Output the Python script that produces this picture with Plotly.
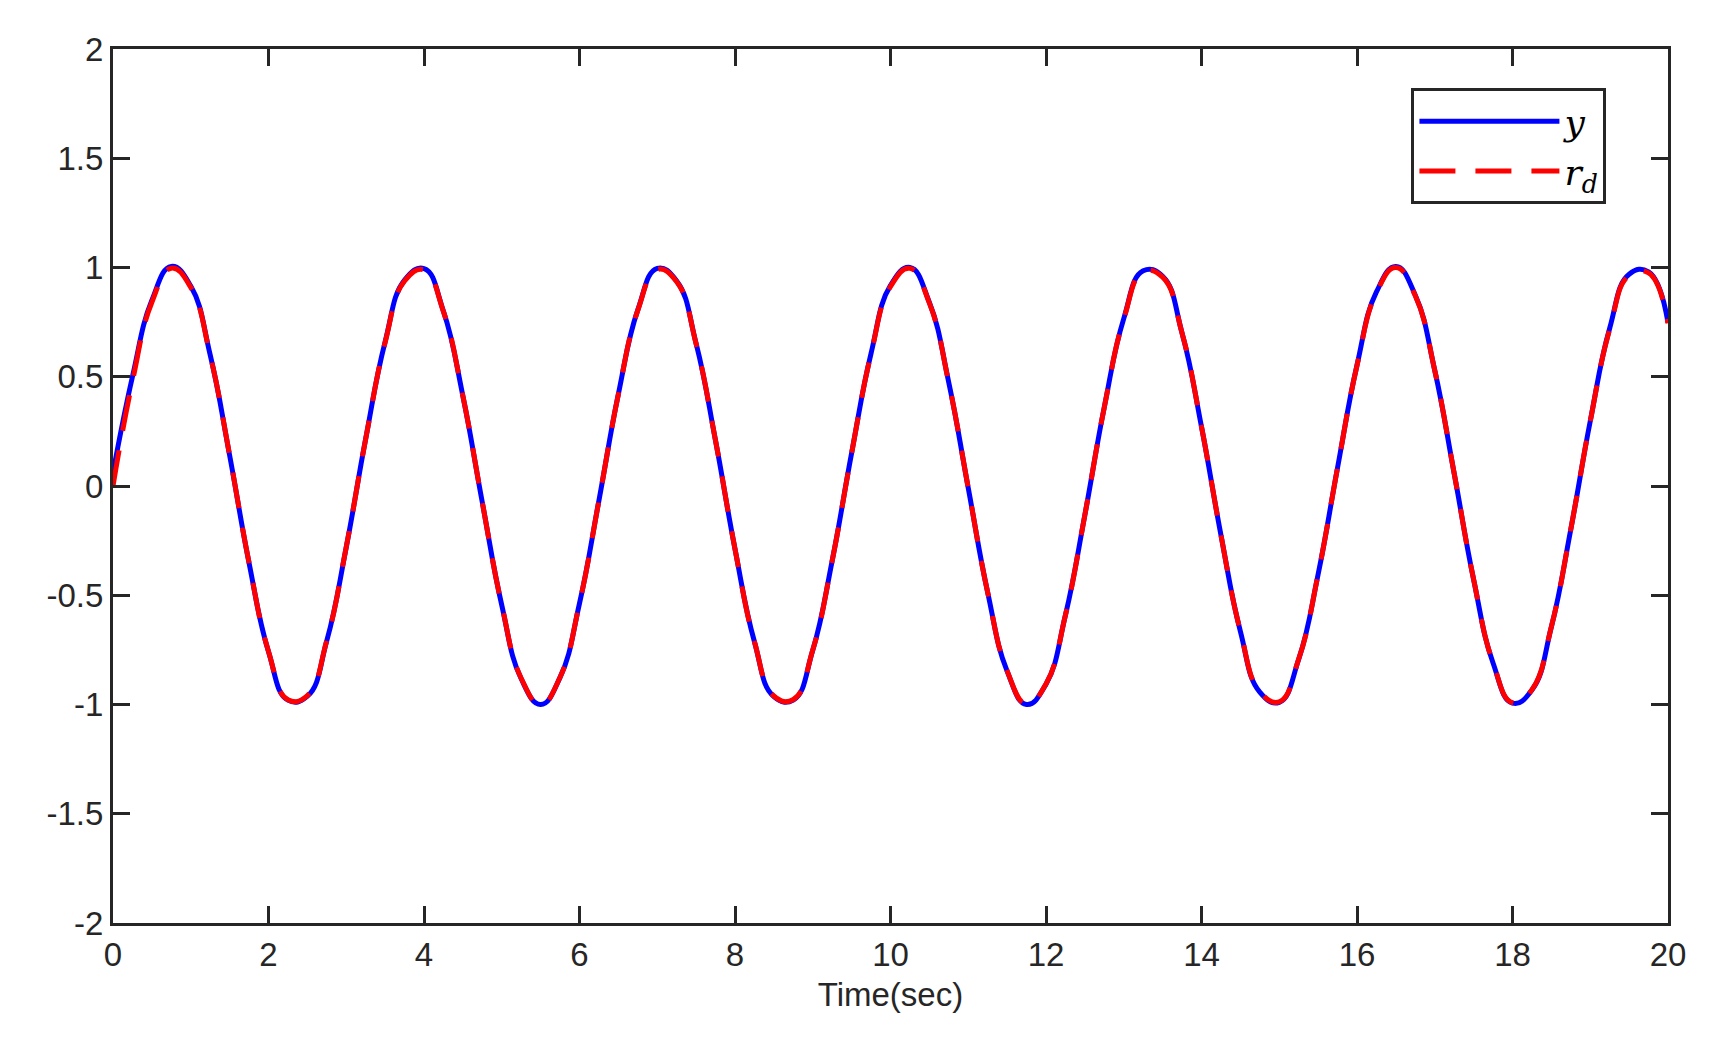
import plotly.graph_objects as go

t = [0.25 * k for k in range(81)]
rd = [0, 0.479, 0.841, 0.997, 0.909, 0.598, 0.141, -0.351, -0.757, -0.978,
      -0.959, -0.706, -0.279, 0.215, 0.657, 0.938, 0.989, 0.798, 0.412, -0.075,
      -0.544, -0.880, -1.000, -0.875, -0.537, -0.066, 0.420, 0.804, 0.991, 0.935,
      0.650, 0.207, -0.288, -0.712, -0.961, -0.977, -0.751, -0.342, 0.150, 0.605,
      0.913, 0.996, 0.837, 0.472, -0.009, -0.487, -0.846, -0.998, -0.906, -0.591,
      -0.132, 0.360, 0.763, 0.980, 0.956, 0.699, 0.271, -0.224, -0.664, -0.941,
      -0.988, -0.792, -0.404, 0.084, 0.551, 0.884, 1.000, 0.871, 0.529, 0.057,
      -0.428, -0.809, -0.992, -0.932, -0.644, -0.198, 0.296, 0.718, 0.964, 0.975,
      0.745]
y = [0.06, 0.50, 0.85, 1.005, 0.915, 0.60, 0.14, -0.352, -0.758, -0.980,
     -0.962, -0.708, -0.280, 0.216, 0.660, 0.942, 0.995, 0.800, 0.412, -0.075,
     -0.545, -0.882, -1.000, -0.876, -0.537, -0.066, 0.421, 0.806, 0.996, 0.938,
     0.652, 0.207, -0.288, -0.713, -0.964, -0.980, -0.752, -0.342, 0.151, 0.607,
     0.918, 1.000, 0.840, 0.473, -0.009, -0.487, -0.847, -1.000, -0.907, -0.591,
     -0.132, 0.361, 0.766, 0.985, 0.960, 0.700, 0.271, -0.224, -0.665, -0.943,
     -0.990, -0.793, -0.404, 0.084, 0.553, 0.888, 1.005, 0.873, 0.529, 0.057,
     -0.428, -0.810, -0.994, -0.934, -0.645, -0.198, 0.297, 0.722, 0.969, 0.980,
     0.748]

xticks = [0, 2, 4, 6, 8, 10, 12, 14, 16, 18, 20]
yticks = [-2, -1.5, -1, -0.5, 0, 0.5, 1, 1.5, 2]

fig = go.Figure()
fig.add_trace(go.Scatter(x=t, y=y, mode="lines", name="<i>y</i>",
                         line=dict(color="#0000ff", width=5, shape="spline", smoothing=1.3)))
fig.add_trace(go.Scatter(x=t, y=rd, mode="lines", name="<i>r</i><sub><i>d</i></sub>",
                         line=dict(color="#ff0000", width=5, shape="spline", smoothing=1.3,
                                   dash="36px,20px")))

axis_common = dict(showline=True, linecolor="#262626", linewidth=3, mirror="allticks",
                   ticks="inside", ticklen=17, tickwidth=3, tickcolor="#262626",
                   showgrid=False, zeroline=False,
                   tickfont=dict(family="Liberation Sans, Arial", size=33, color="#262626"))

fig.update_layout(
    width=1718, height=1037,
    margin=dict(l=105, r=58, t=41, b=122),
    plot_bgcolor="white", paper_bgcolor="white",
    xaxis=dict(range=[0, 20], tickvals=xticks, ticktext=[str(v) for v in xticks],
               title=dict(text="Time(sec)", font=dict(family="Liberation Sans, Arial", size=33, color="#262626"), standoff=12),
               **axis_common),
    yaxis=dict(range=[-2, 2], tickvals=yticks, ticktext=[f"{v:g}" for v in yticks], **axis_common),
    legend=dict(x=0.835, y=0.955, xanchor="left", yanchor="top",
                bordercolor="#262626", borderwidth=3, bgcolor="white",
                font=dict(family="DejaVu Serif, serif", size=36, color="black"),
                itemwidth=140),
)
fig.write_html("out.html")
